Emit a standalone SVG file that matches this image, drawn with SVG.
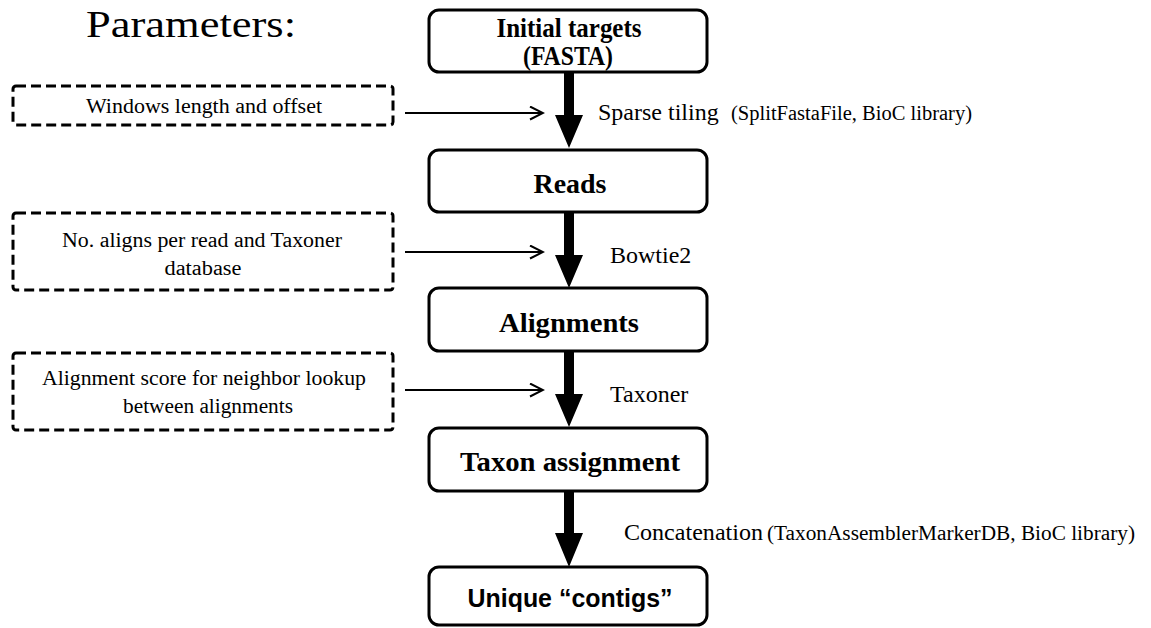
<svg xmlns="http://www.w3.org/2000/svg" width="1151" height="628" viewBox="0 0 1151 628">
<defs>
<style>
.node{fill:#fff;stroke:#000;stroke-width:3}
.param{fill:#fff;stroke:#000;stroke-width:3;stroke-dasharray:10 5}
.serif{font-family:"Liberation Serif","Times New Roman",serif;font-weight:normal;fill:#000}
.bt{font-family:"Liberation Serif","Times New Roman",serif;font-weight:bold;font-size:28px;text-anchor:middle;fill:#000}
.st{font-family:"Liberation Serif","Times New Roman",serif;font-weight:normal;font-size:20px;text-anchor:middle;fill:#000}
.lab{font-family:"Liberation Serif","Times New Roman",serif;font-weight:normal;font-size:24px;fill:#000}
.sm{font-family:"Liberation Serif","Times New Roman",serif;font-weight:normal;font-size:20px;fill:#000}
.thin{stroke:#000;stroke-width:2;fill:none}
.shaft{fill:#000}
</style>
<marker id="open" markerWidth="16" markerHeight="16" refX="14" refY="7" orient="auto" markerUnits="userSpaceOnUse">
<path d="M1,0.5 L14,7 L1,13.5" fill="none" stroke="#000" stroke-width="2"/>
</marker>
</defs>
<rect width="1151" height="628" fill="#fff"/>
<text class="serif" x="86" y="37" font-size="37" textLength="210" lengthAdjust="spacingAndGlyphs">Parameters:</text>

<g id="param1">
<rect class="param" x="13" y="86" width="380" height="39" rx="3"/>
<text class="st" x="204" y="113" textLength="236" lengthAdjust="spacingAndGlyphs">Windows length and offset</text>
</g>
<g id="param2">
<rect class="param" x="13" y="213" width="380" height="77" rx="3"/>
<text class="st" x="202" y="247" textLength="280" lengthAdjust="spacingAndGlyphs">No. aligns per read and Taxoner</text>
<text class="st" x="203" y="275" textLength="77" lengthAdjust="spacingAndGlyphs">database</text>
</g>
<g id="param3">
<rect class="param" x="13" y="353" width="380" height="77" rx="3"/>
<text class="st" x="204" y="385" textLength="324" lengthAdjust="spacingAndGlyphs">Alignment score for neighbor lookup</text>
<text class="st" x="208" y="413" textLength="170" lengthAdjust="spacingAndGlyphs">between alignments</text>
</g>

<g id="n1">
<rect class="node" x="429" y="10" width="278" height="62" rx="10"/>
<text class="bt" x="569" y="37" font-size="24" textLength="145" lengthAdjust="spacingAndGlyphs">Initial targets</text>
<text class="bt" x="568" y="65" font-size="24" textLength="90" lengthAdjust="spacingAndGlyphs">(FASTA)</text>
</g>
<g id="n2">
<rect class="node" x="429" y="150" width="278" height="62" rx="10"/>
<text class="bt" x="570" y="193" textLength="73" lengthAdjust="spacingAndGlyphs">Reads</text>
</g>
<g id="n3">
<rect class="node" x="429" y="288" width="278" height="63" rx="10"/>
<text class="bt" x="569" y="332" textLength="140" lengthAdjust="spacingAndGlyphs">Alignments</text>
</g>
<g id="n4">
<rect class="node" x="429" y="428" width="278" height="63" rx="10"/>
<text class="bt" x="570" y="471" textLength="220" lengthAdjust="spacingAndGlyphs">Taxon assignment</text>
</g>
<g id="n5">
<rect class="node" x="429" y="567" width="278" height="58" rx="10"/>
<text x="570" y="607" font-family="Liberation Sans, Arial, sans-serif" font-weight="bold" font-size="25" text-anchor="middle" textLength="205" lengthAdjust="spacingAndGlyphs">Unique “contigs”</text>
</g>

<g id="connectors">
<path class="shaft" d="M564,72 H574 V115 H583 L569,148 L555,115 H564 Z"/>
<path class="shaft" d="M564,212 H574 V255 H583 L569,288 L555,255 H564 Z"/>
<path class="shaft" d="M564,351 H574 V394 H583 L569,427 L555,394 H564 Z"/>
<path class="shaft" d="M564,491 H574 V533 H583 L569,567 L555,533 H564 Z"/>
<line class="thin" x1="405" y1="113" x2="543" y2="113" marker-end="url(#open)"/>
<line class="thin" x1="405" y1="252" x2="543" y2="252" marker-end="url(#open)"/>
<line class="thin" x1="405" y1="390" x2="543" y2="390" marker-end="url(#open)"/>
<text class="lab" x="598" y="120">Sparse tiling</text>
<text class="sm" x="731" y="120" textLength="241" lengthAdjust="spacingAndGlyphs">(SplitFastaFile, BioC library)</text>
<text class="lab" x="610" y="263">Bowtie2</text>
<text class="lab" x="610" y="402">Taxoner</text>
<text class="lab" x="624" y="540" textLength="139" lengthAdjust="spacingAndGlyphs">Concatenation</text>
<text class="sm" x="767" y="540" textLength="368" lengthAdjust="spacingAndGlyphs">(TaxonAssemblerMarkerDB, BioC library)</text>
</g>
</svg>
